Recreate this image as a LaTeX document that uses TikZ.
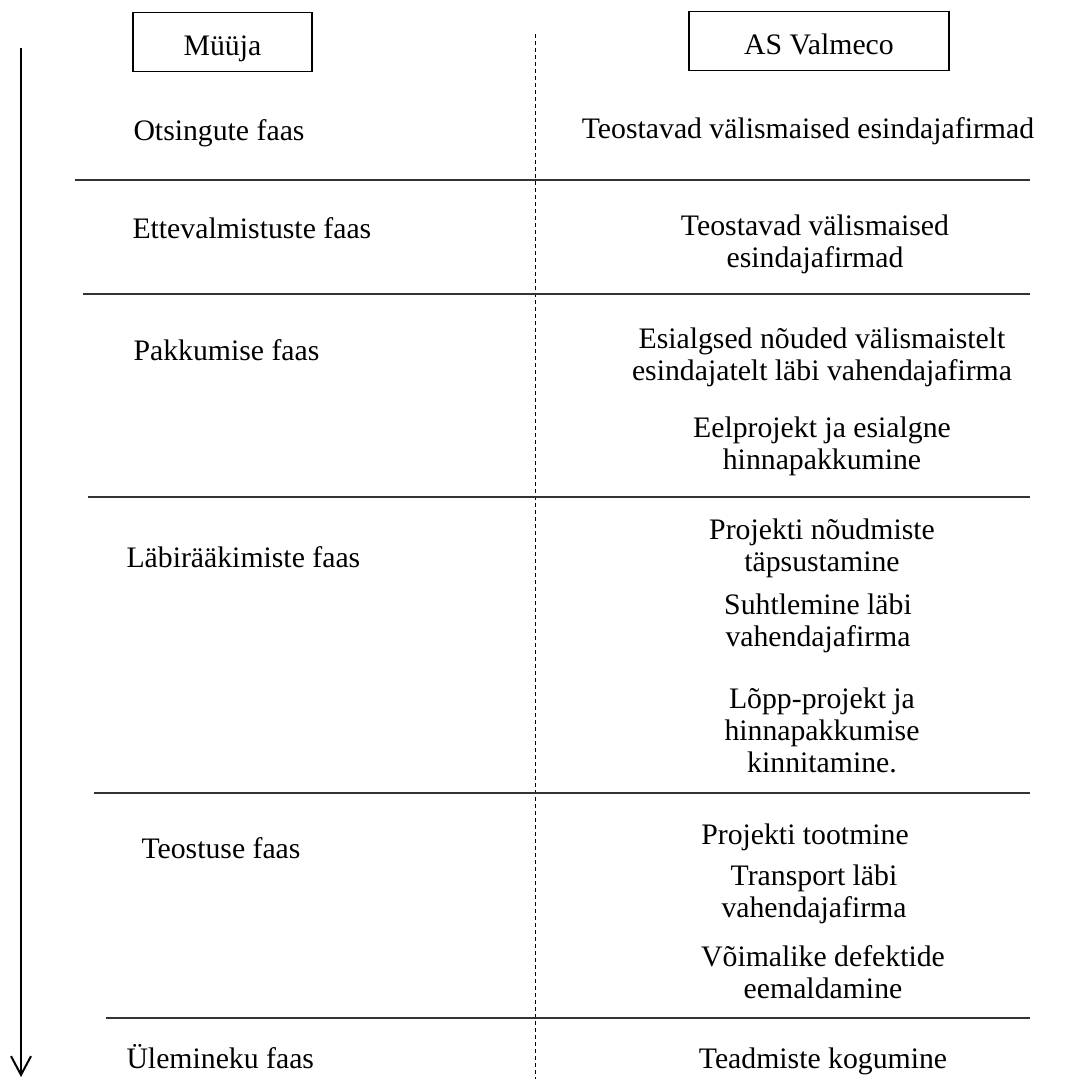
\documentclass[tikz,border=0pt]{standalone}
\usepackage{fontspec}
\setmainfont{Liberation Serif}
\usetikzlibrary{arrows.meta}
\tikzset{txt/.style={font=\fontsize{11.9}{12.8}\selectfont, inner sep=0pt},
  oneline/.style={text height=8pt, text depth=0pt},
  headbox/.style={txt, draw, line width=0.5pt, minimum height=23.6pt, text height=11pt, text depth=0pt},
  phase/.style={txt, oneline, anchor=west},
  task/.style={txt, align=center},
  sepline/.style={line width=0.6pt, black!80}}

\begin{document}
\begin{tikzpicture}[x=0.4pt, y=-0.4pt]
      \useasboundingbox (0,0) rectangle (1068,1079);

      % time axis and column divider
      \draw [line width=0.8pt, -{Straight Barb[length=7.5pt, width=8pt]}] (21,48) -- (21,1077);
      \draw [line width=0.4pt, dash pattern=on 1.6pt off 1.2pt] (535,34) -- (535,1079);

      \node [headbox, minimum width=71.6pt] (seller) at (222.5,42) {Müüja};
      \node [headbox, minimum width=104pt] (buyer) at (819,41) {AS Valmeco};

      \foreach \xs/\ys in {75/180, 83/294, 88/497, 94/793, 106/1018}
        \draw [sepline] (\xs,\ys) -- (1030,\ys);

      % phases
      \node [phase] (otsing) at (133,130) {Otsingute faas};
      \node [phase] (ette) at (132,228) {Ettevalmistuste faas};
      \node [phase] (pakk) at (133,350) {Pakkumise faas};
      \node [phase] (labi) at (126,557) {Läbirääkimiste faas};
      \node [phase] (teost) at (141,848) {Teostuse faas};
      \node [phase] (ulem) at (126,1058) {Ülemineku faas};

      % AS Valmeco side
      \node [task, oneline] (t1) at (808,129) {Teostavad välismaised esindajafirmad};
      \node [task] (t2) at (815,244) {Teostavad välismaised\\esindajafirmad};
      \node [task] (t3a) at (822,357) {Esialgsed nõuded välismaistelt\\esindajatelt läbi vahendajafirma};
      \node [task] (t3b) at (822,446) {Eelprojekt ja esialgne\\hinnapakkumine};
      \node [task] (t4a) at (822,548) {Projekti nõudmiste\\täpsustamine};
      \node [task] (t4b) at (818,623) {Suhtlemine läbi\\vahendajafirma};
      \node [task] (t4c) at (822,730) {Lõpp-projekt ja\\hinnapakkumise\\kinnitamine.};
      \node [task, oneline] (t5a) at (805,834) {Projekti tootmine};
      \node [task] (t5b) at (814,894) {Transport läbi\\vahendajafirma};
      \node [task] (t5c) at (823,972) {Võimalike defektide\\eemaldamine};
      \node [task, oneline] (t6) at (823,1058) {Teadmiste kogumine};
    \end{tikzpicture}
\end{document}
